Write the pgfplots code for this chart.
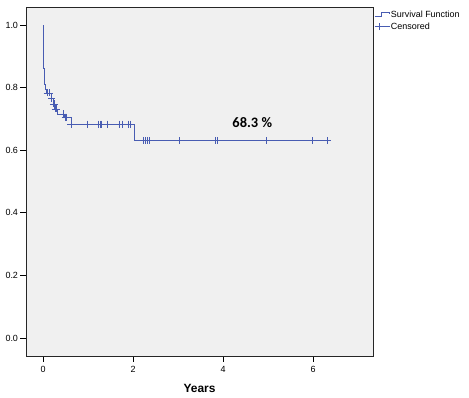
\documentclass[border=0pt]{standalone}
\usepackage{fontspec}
\setmainfont{Liberation Sans}
\newfontfamily\calib{Carlito}
\usepackage{pgfplots}
\pgfplotsset{compat=1.18}
\definecolor{kmblue}{RGB}{72,92,178}
\definecolor{bggray}{RGB}{240,240,240}
\begin{document}
\begin{tikzpicture}
\begin{axis}[
  scale only axis,
  width=347bp, height=348.5bp,
  xmin=-0.378, xmax=7.333,
  ymin=-0.0575, ymax=1.056,
  axis background/.style={fill=bggray},
  axis line style={draw=black!85, line width=0.8bp},
  xtick={0,2,4,6},
  ytick={0,0.2,0.4,0.6,0.8,1.0},
  yticklabels={0.0,0.2,0.4,0.6,0.8,1.0},
  tick align=outside,
  major tick length=5.5bp,
  tick style={black, line width=0.7bp},
  xtick pos=bottom, ytick pos=left,
  ticklabel style={font=\fontsize{9}{10}\selectfont},
  /pgf/number format/assume math mode=true,
  yticklabel style={xshift=1bp},
  xticklabel style={yshift=-1bp},
  xlabel={\bfseries Years},
  xlabel style={font=\fontsize{12}{14}\selectfont, yshift=-5bp},
  legend style={at={(rel axis cs:1.0,0.997)}, anchor=north west, draw=none, fill=none,
    font=\fontsize{9}{10}\selectfont, inner sep=1bp, row sep=2bp,
    nodes={inner sep=1bp}},
  legend cell align=left,
  clip=false,
]
\addplot[const plot, color=kmblue, line width=0.8bp,
  legend image code/.code={\draw[kmblue, line width=0.7bp] (0bp,-2bp) -- (7bp,-2bp) -- (7bp,2.5bp) -- (15bp,2.5bp) -- (15bp,0.5bp);}]
coordinates {
(0,1.0) (0.004,0.97) (0.008,0.93) (0.012,0.89) (0.016,0.86) (0.022,0.83)
(0.032,0.81) (0.05,0.795) (0.07,0.783) (0.18,0.765) (0.22,0.748) (0.26,0.732)
(0.31,0.716) (0.47,0.706) (0.62,0.683) (2.02,0.63) (6.33,0.63)
};
\addlegendentry{Survival Function}
\addplot[only marks, mark=+, mark size=3.5bp, color=kmblue, mark options={line width=0.7bp},
  legend image code/.code={\draw[kmblue, line width=0.7bp] (0bp,0bp) -- (15bp,0bp); \draw[kmblue, line width=0.7bp] (4.5bp,-3.5bp) -- (4.5bp,3.5bp);}]
coordinates {
(0.09,0.783) (0.14,0.783) (0.19,0.765) (0.23,0.748) (0.25,0.748) (0.27,0.732)
(0.29,0.732) (0.45,0.716) (0.49,0.706) (0.51,0.706) (0.62,0.683) (0.98,0.683)
(1.23,0.683) (1.27,0.683) (1.30,0.683) (1.42,0.683) (1.70,0.683) (1.77,0.683)
(1.90,0.683) (1.93,0.683) (2.22,0.63) (2.27,0.63) (2.32,0.63) (2.36,0.63)
(3.04,0.63) (3.84,0.63) (3.87,0.63) (4.96,0.63) (5.99,0.63) (6.32,0.63)
};
\addlegendentry{Censored}
\node[font=\calib\bfseries\fontsize{14.5}{16}\selectfont, text=black] at (axis cs:4.65,0.687) {68.3 \%};
\end{axis}
\pgfresetboundingbox
\useasboundingbox (-26bp,-42bp) rectangle ++(469bp,398bp);
\end{tikzpicture}
\end{document}
